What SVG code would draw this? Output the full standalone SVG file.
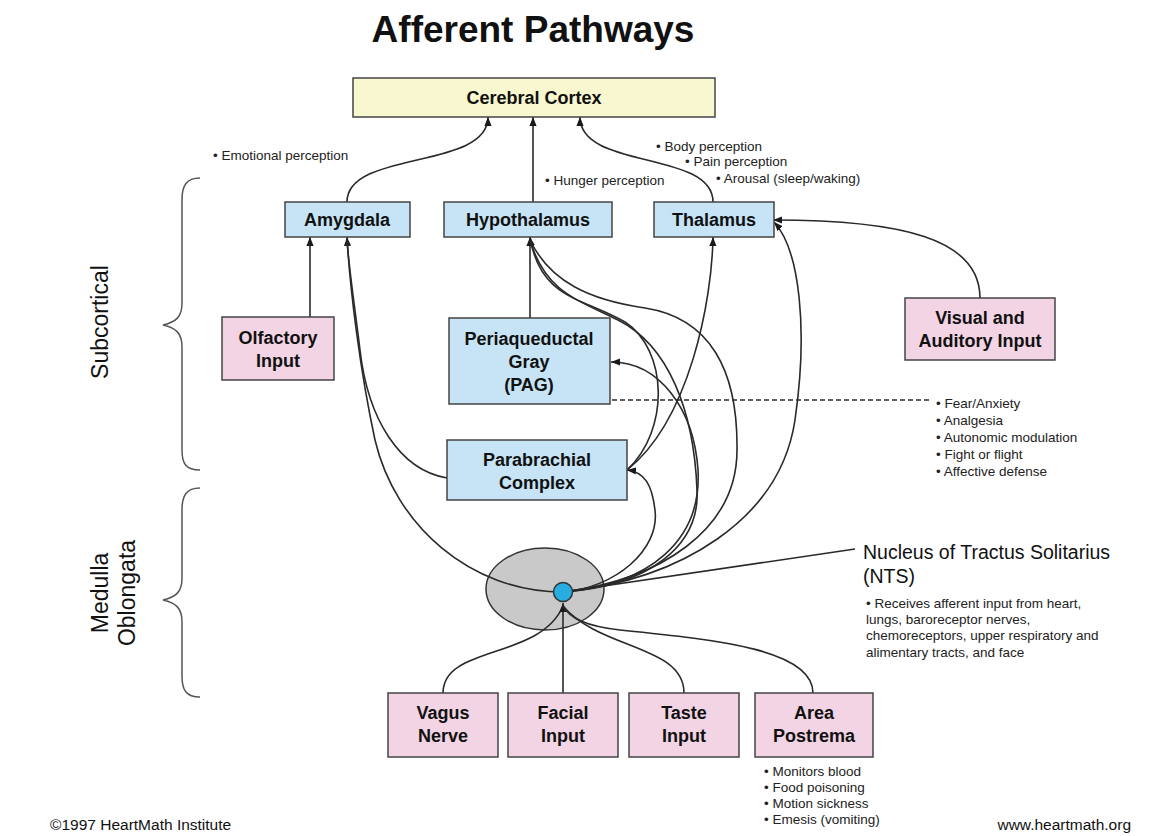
<svg xmlns="http://www.w3.org/2000/svg" width="1164" height="836" viewBox="0 0 1164 836">
<defs>
<style>
.t{font-family:"Liberation Sans",Arial,sans-serif;fill:#111}
.b{font-weight:bold;font-size:18px;text-anchor:middle}
.s{font-size:13.5px;fill:#222}
.box{stroke:#444;stroke-width:1.5}
.blue{fill:#c6e4f5}
.pink{fill:#f3d4e4}
.yel{fill:#f8f7cf}
.c{fill:none;stroke:#2a2a2a;stroke-width:1.6}
.a{marker-end:url(#ah)}
.br{fill:none;stroke:#555;stroke-width:1.5}
</style>
<marker id="ah" viewBox="0 0 10 10" refX="10" refY="5" markerWidth="9" markerHeight="9" orient="auto" markerUnits="userSpaceOnUse"><path d="M0,1 L10,5 L0,9 z" fill="#1a1a1a"/></marker>
</defs>
<rect width="1164" height="836" fill="#fff"/>
<text class="t" x="533" y="42" font-size="37" font-weight="bold" text-anchor="middle">Afferent Pathways</text>

<g id="braces">
<path class="br" d="M200,178 C186,178 182,186 182,200 L182,303 C182,317 176,322 163,325 C176,328 182,333 182,347 L182,450 C182,464 186,470 200,470"/>
<path class="br" d="M200,488 C186,488 182,496 182,510 L182,578 C182,592 176,597 163,600 C176,603 182,608 182,622 L182,676 C182,690 186,697 200,697"/>
<text class="t" font-size="23" text-anchor="middle" transform="translate(108,322) rotate(-90)">Subcortical</text>
<text class="t" font-size="23" text-anchor="middle" transform="translate(108,593) rotate(-90)">Medulla</text>
<text class="t" font-size="23" text-anchor="middle" transform="translate(135,593) rotate(-90)">Oblongata</text>
</g>

<g id="nts-oval"><ellipse cx="545" cy="589" rx="59" ry="41" fill="#c9c9c9" stroke="#333" stroke-width="1.5"/></g>

<g id="connectors">
<path class="c a" d="M347,202 C347,150 488,170 488,117"/>
<path class="c a" d="M533,202 L533,117"/>
<path class="c a" d="M713,202 C713,150 580,170 580,117"/>
<path class="c a" d="M310,317 L310,237"/>
<path class="c a" d="M530,318 L530,237"/>
<path class="c a" d="M980,298 C980,238 900,220 773,220"/>
<path class="c a" d="M563,592 C680,580 780,520 795,420 C808,330 800,250 774,222"/>
<path class="c a" d="M563,592 C470,592 395,525 375,440 C360,370 350,290 347,237"/>
<path class="c" d="M447,478 C400,470 368,420 360,350 C354,300 349,270 347,240"/>
<path class="c a" d="M563,592 C615,588 660,550 655,510 C652,485 645,472 627,470"/>
<path class="c a" d="M627,470 C670,430 668,350 625,322 C585,298 540,300 530,237"/>
<path class="c a" d="M627,470 C690,420 712,300 713,237"/>
<path class="c a" d="M563,592 C650,585 702,540 698,470 C694,410 660,362 611,362"/>
<path class="c" d="M563,592 C650,586 700,545 697,490 C694,410 668,345 618,320 C578,300 545,292 530,240"/>
<path class="c" d="M563,592 C660,580 737,530 737,450 C738,370 710,318 645,308 C590,300 550,282 530,240"/>
<path class="c" d="M563,592 L855,549"/>
<path class="c" d="M443,693 C443,645 540,660 563,606"/>
<path class="c a" d="M563,693 L563,603"/>
<path class="c" d="M684,693 C684,645 600,650 563,606"/>
<path class="c" d="M813,693 C813,650 720,640 620,630 C585,626 570,618 563,606"/>
<path class="c" d="M612,400 L930,400" stroke-dasharray="5,3"/>
</g>

<g id="cortex"><rect class="box yel" x="353" y="78" width="362" height="39"/><text class="t b" x="534" y="104">Cerebral Cortex</text></g>
<g id="amygdala"><rect class="box blue" x="285" y="202" width="125" height="35"/><text class="t b" x="347" y="226">Amygdala</text></g>
<g id="hypothalamus"><rect class="box blue" x="444" y="202" width="168" height="35"/><text class="t b" x="528" y="226">Hypothalamus</text></g>
<g id="thalamus"><rect class="box blue" x="654" y="202" width="120" height="35"/><text class="t b" x="714" y="226">Thalamus</text></g>
<g id="olfactory"><rect class="box pink" x="222" y="317" width="112" height="63"/><text class="t b" x="278" y="344">Olfactory</text><text class="t b" x="278" y="367">Input</text></g>
<g id="pag"><rect class="box blue" x="449" y="318" width="161" height="86"/><text class="t b" x="529" y="345">Periaqueductal</text><text class="t b" x="529" y="368">Gray</text><text class="t b" x="529" y="391">(PAG)</text></g>
<g id="parabrachial"><rect class="box blue" x="447" y="440" width="180" height="60"/><text class="t b" x="537" y="466">Parabrachial</text><text class="t b" x="537" y="489">Complex</text></g>
<g id="visual"><rect class="box pink" x="905" y="298" width="150" height="62"/><text class="t b" x="980" y="324">Visual and</text><text class="t b" x="980" y="347">Auditory Input</text></g>
<g id="nts"><circle cx="563" cy="592" r="9.5" fill="#27ade2" stroke="#333" stroke-width="1.5"/></g>
<g id="vagus"><rect class="box pink" x="388" y="693" width="110" height="64"/><text class="t b" x="443" y="719">Vagus</text><text class="t b" x="443" y="742">Nerve</text></g>
<g id="facial"><rect class="box pink" x="508" y="693" width="110" height="64"/><text class="t b" x="563" y="719">Facial</text><text class="t b" x="563" y="742">Input</text></g>
<g id="taste"><rect class="box pink" x="629" y="693" width="110" height="64"/><text class="t b" x="684" y="719">Taste</text><text class="t b" x="684" y="742">Input</text></g>
<g id="postrema"><rect class="box pink" x="755" y="693" width="118" height="64"/><text class="t b" x="814" y="719">Area</text><text class="t b" x="814" y="742">Postrema</text></g>

<g id="labels">
<text class="t s" x="213" y="160">• Emotional perception</text>
<text class="t s" x="545" y="185">• Hunger perception</text>
<text class="t s" x="656" y="151">• Body perception</text>
<text class="t s" x="685" y="166">• Pain perception</text>
<text class="t s" x="716" y="183">• Arousal (sleep/waking)</text>
<text class="t s" x="936" y="408">• Fear/Anxiety</text>
<text class="t s" x="936" y="425">• Analgesia</text>
<text class="t s" x="936" y="442">• Autonomic modulation</text>
<text class="t s" x="936" y="459">• Fight or flight</text>
<text class="t s" x="936" y="476">• Affective defense</text>
<text class="t" x="863" y="559" font-size="19.5">Nucleus of Tractus Solitarius</text>
<text class="t" x="863" y="583" font-size="19.5">(NTS)</text>
<text class="t s" x="866" y="608" font-size="13">• Receives afferent input from heart,</text>
<text class="t s" x="866" y="624" font-size="13">lungs, baroreceptor nerves,</text>
<text class="t s" x="866" y="640" font-size="13">chemoreceptors, upper respiratory and</text>
<text class="t s" x="866" y="657" font-size="13">alimentary tracts, and face</text>
<text class="t s" x="764" y="776" font-size="13">• Monitors blood</text>
<text class="t s" x="764" y="792" font-size="13">• Food poisoning</text>
<text class="t s" x="764" y="808" font-size="13">• Motion sickness</text>
<text class="t s" x="764" y="824" font-size="13">• Emesis (vomiting)</text>
<text class="t" x="50" y="830" font-size="15.5" fill="#444">©1997 HeartMath Institute</text>
<text class="t" x="1131" y="830" font-size="15.5" fill="#444" text-anchor="end">www.heartmath.org</text>
</g>
</svg>
